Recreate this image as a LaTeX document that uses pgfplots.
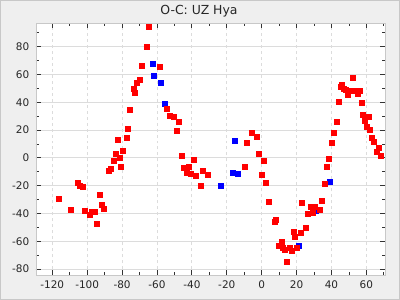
\documentclass[border=0pt]{standalone}
\usepackage{pgfplots}
\pgfplotsset{compat=1.18}
\usepackage{fontspec}
\setmainfont{DejaVu Sans}
\definecolor{bgout}{HTML}{EFEFEF}
\definecolor{frameline}{HTML}{C8C8C8}
\definecolor{gridc}{HTML}{DCDCDC}
\begin{document}
\begin{tikzpicture}
\path[fill=bgout, draw=frameline, line width=1bp] (0.5bp,0.5bp) rectangle (399.5bp,299.5bp);
\useasboundingbox (0,0) rectangle (400bp,300bp);
\node[font=\fontsize{12.5}{14}\selectfont, text=black!85] at (199bp,288.5bp) {O-C: UZ Hya};
\begin{axis}[
  at={(35.7bp,25bp)}, anchor=south west,
  scale only axis, width=349bp, height=251.7bp,
  xmin=-129.5, xmax=70.5, ymin=-84.3, ymax=96.8,
  axis background/.style={fill=white},
  axis line style={draw=frameline},
  xtick={-120,-100,...,60}, ytick={-80,-60,...,80},
  minor xtick={-130,-110,...,70}, minor ytick={-70,-50,...,90},
  tick align=inside,
  major tick length=5bp, minor tick length=3bp,
  tick style={draw=black!80, line width=0.8bp},
  xmajorgrids, ymajorgrids,
  x grid style={draw=gridc, dashed, line width=0.8bp},
  y grid style={draw=gridc, line width=0.8bp},
  ticklabel style={font=\fontsize{10.5}{12}\selectfont, text=black!85},
  /pgf/number format/assume math mode=true,
  xticklabel style={yshift=-2bp},
  yticklabel style={xshift=-3bp},
  clip=false,
]
\addplot[only marks, mark=square*, mark size=2.5bp, draw=blue, fill=blue] coordinates {
(-62.5,67.6) (-61.9,59.0) (-57.9,54.0) (-55.6,38.8) (-23.5,-20.1) (-16.6,-10.8)
(-15.5,12.2) (-13.8,-11.5) (21.2,-63.3) (31.2,-38.1) (39.0,-17.3)
};
\addplot[only marks, mark=square*, mark size=2.5bp, draw=red, fill=red] coordinates {
(-116.3,-29.5) (-109.5,-37.4) (-105.4,-18.0) (-104.3,-19.9) (-102.6,-20.9)
(-101.4,-38.1) (-98.6,-41.0) (-97.4,-38.8) (-95.5,-38.8) (-94.6,-47.5)
(-92.8,-26.6) (-91.7,-33.8) (-90.6,-36.7) (-87.7,-9.4) (-86.5,-7.5)
(-84.8,-2.2) (-83.7,2.9) (-82.5,12.9) (-81.4,0.0) (-80.8,-6.5) (-79.7,5.0)
(-77.4,14.4) (-76.8,20.9) (-75.6,34.5) (-73.4,49.6) (-72.8,46.8) (-71.6,54.0)
(-69.9,56.1) (-68.8,66.2) (-65.9,79.9) (-64.7,94.5) (-58.5,65.5) (-54.4,35.3)
(-52.7,30.2) (-50.6,29.5) (-47.6,25.9) (-48.7,19.4) (-45.8,1.4) (-44.7,-7.2)
(-43.0,-10.8) (-41.8,-6.5) (-40.7,-11.5) (-39.0,-1.4) (-37.8,-12.9)
(-35.0,-20.1) (-33.8,-9.4) (-30.9,-12.2) (-9.7,-6.5) (-8.6,10.8) (-5.7,18.0)
(-2.9,15.1) (-1.7,2.9) (0.0,-12.2) (1.1,-2.2) (2.3,-18.0) (4.0,-31.7)
(7.5,-46.0) (8.0,-44.6) (10.0,-63.3) (11.5,-60.2) (12.0,-64.3) (13.2,-66.0)
(14.3,-74.8) (16.0,-64.3) (17.2,-66.9) (18.3,-53.0) (18.9,-56.8) (20.1,-65.0)
(22.4,-54.0) (22.9,-32.4) (25.2,-50.4) (26.4,-40.3) (28.1,-35.3) (29.2,-39.6)
(30.4,-35.3) (33.2,-37.4) (34.4,-30.9) (36.1,-18.7) (37.3,-6.5) (38.4,-0.7)
(40.1,10.8) (41.3,18.0) (43.0,25.9) (44.1,40.3) (45.3,51.1) (45.8,52.5)
(47.0,49.6) (48.1,48.9) (49.3,45.3) (50.4,48.5) (52.2,48.5) (52.2,57.6)
(53.3,48.5) (54.4,48.5) (55.0,46.0) (56.2,48.5) (57.3,39.6) (57.9,30.9)
(59.0,26.6) (60.2,22.3) (61.3,29.5) (61.9,20.1) (63.0,14.4) (64.2,11.5)
(65.9,4.3) (67.1,7.2) (68.2,1.4)
};
\end{axis}
\end{tikzpicture}
\end{document}
